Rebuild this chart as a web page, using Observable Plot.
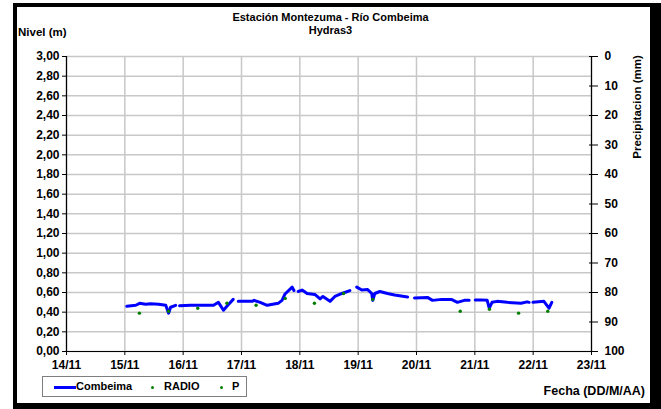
<!DOCTYPE html>
<html><head><meta charset="utf-8">
<script src="https://cdn.jsdelivr.net/npm/d3@7"></script>
<script src="https://cdn.jsdelivr.net/npm/@observablehq/plot@0.6"></script>
<style>
body{margin:0;background:#fff;}
#wrap{position:relative;width:661px;height:409px;overflow:hidden;background:#fff;font-family:"Liberation Sans",Arial,sans-serif;font-weight:bold;color:#000;}
#chart{position:absolute;left:0;top:0;}
.t{position:absolute;white-space:nowrap;font-weight:bold;}
#frame{position:absolute;left:13px;top:3px;width:648px;height:406px;box-sizing:border-box;border-style:solid;border-color:#000;border-width:4px 11px 6px 4px;pointer-events:none;}
#legend{position:absolute;left:42px;top:376px;width:205px;height:21px;box-sizing:border-box;border:1px solid #7f7f7f;background:#fff;font-size:11px;}
</style></head><body>
<div id="wrap">
  <div id="chart"></div>
  <div class="t" style="left:0;width:661px;text-align:center;top:11px;font-size:11px;">Estación Montezuma - Río Combeima</div>
  <div class="t" style="left:0;width:661px;text-align:center;top:24px;font-size:11px;">Hydras3</div>
  <div class="t" style="left:18px;top:26px;font-size:11.5px;">Nivel (m)</div>
  <div class="t" style="left:637px;top:107px;font-size:11.5px;transform:translate(-50%,-50%) rotate(-90deg);">Precipitacion (mm)</div>
  <div class="t" style="right:16px;top:384px;font-size:12.5px;">Fecha (DD/M/AA)</div>
  <div id="legend">
    <div style="position:absolute;left:11px;top:9px;width:22px;height:3px;background:#0000ff;"></div>
    <div class="t" style="left:33px;top:3px;">Combeima</div>
    <div style="position:absolute;left:108px;top:9px;width:3px;height:3px;border-radius:50%;background:#008000;"></div>
    <div class="t" style="left:121px;top:3px;">RADIO</div>
    <div style="position:absolute;left:177px;top:9px;width:3px;height:3px;border-radius:50%;background:#008000;"></div>
    <div class="t" style="left:189px;top:3px;">P</div>
  </div>
  <div id="frame"></div>
</div>
<script>
// Combeima level series (null = gap in record)
const combeimaTime = [
  "2010-11-15T00:48","2010-11-15T04:30","2010-11-15T06:05","2010-11-15T08:35","2010-11-15T10:35","2010-11-15T13:55","2010-11-15T16:50","2010-11-15T18:00","2010-11-15T18:50","2010-11-15T20:55",
  "2010-11-15T21:40",
  "2010-11-15T22:30","2010-11-16T03:00","2010-11-16T07:05","2010-11-16T12:30","2010-11-16T14:30","2010-11-16T16:35","2010-11-16T18:10","2010-11-16T20:35",
  "2010-11-16T21:40",
  "2010-11-16T22:40","2010-11-17T04:25","2010-11-17T05:10","2010-11-17T07:40","2010-11-17T10:35","2010-11-17T15:05","2010-11-17T16:40","2010-11-17T17:55","2010-11-17T20:50","2010-11-17T21:35",
  "2010-11-17T22:30",
  "2010-11-17T23:20","2010-11-18T00:55","2010-11-18T03:00","2010-11-18T06:10","2010-11-18T08:20","2010-11-18T09:30","2010-11-18T12:25","2010-11-18T14:25","2010-11-18T17:20","2010-11-18T20:35",
  "2010-11-18T22:00",
  "2010-11-18T23:25","2010-11-19T01:30","2010-11-19T03:55","2010-11-19T05:35","2010-11-19T06:00","2010-11-19T06:50","2010-11-19T08:55","2010-11-19T12:05","2010-11-19T15:00","2010-11-19T20:20",
  "2010-11-19T21:40",
  "2010-11-19T23:10","2010-11-20T04:30","2010-11-20T06:35","2010-11-20T10:20","2010-11-20T14:20","2010-11-20T16:50","2010-11-20T19:40","2010-11-20T21:40",
  "2010-11-20T23:00",
  "2010-11-21T00:10","2010-11-21T02:35","2010-11-21T05:05","2010-11-21T05:55","2010-11-21T07:05","2010-11-21T09:10","2010-11-21T13:20","2010-11-21T19:00","2010-11-21T21:30","2010-11-21T22:20",
  "2010-11-21T23:10",
  "2010-11-21T23:55","2010-11-22T04:25","2010-11-22T06:30","2010-11-22T07:40"
];
const combeimaNivel = [
  0.46,0.47,0.49,0.48,0.485,0.48,0.47,0.39,0.45,0.47,
  null,
  0.465,0.47,0.47,0.47,0.50,0.42,0.465,0.53,
  null,
  0.51,0.51,0.52,0.50,0.47,0.49,0.52,0.585,0.655,0.62,
  null,
  0.61,0.625,0.59,0.58,0.535,0.56,0.51,0.56,0.59,0.62,
  null,
  0.655,0.625,0.63,0.59,0.52,0.59,0.61,0.59,0.575,0.555,
  null,
  0.545,0.55,0.52,0.53,0.53,0.50,0.52,0.52,
  null,
  0.525,0.525,0.52,0.44,0.50,0.51,0.50,0.49,0.505,0.50,
  null,
  0.50,0.51,0.44,0.50
];
// RADIO readings
const radioTime = ["2010-11-15T06:00","2010-11-15T18:00","2010-11-16T06:00","2010-11-16T18:00","2010-11-17T06:00","2010-11-17T18:00","2010-11-18T06:00","2010-11-18T18:00","2010-11-19T06:00","2010-11-20T18:00","2010-11-21T06:00","2010-11-21T18:00","2010-11-22T06:00"];
const radioNivel = [0.39,0.41,0.44,0.49,0.47,0.54,0.49,0.59,0.53,0.41,0.43,0.39,0.41];
// P (precipitation) series: no values shown
const pTime = [];
const pValue = [];
// Axes
const xStart = "2010-11-14T00:00", xEnd = "2010-11-23T00:00";
const nivelTicks = d3.range(0, 16).map(i => +(i * 0.2).toFixed(2));
const precipTicks = d3.range(0, 11).map(i => i * 10);
const precipMax = 100, nivelMax = 3;

const toDate = s => new Date(s + "Z");
const line = combeimaTime.map((t, i) => ({date: toDate(t), nivel: combeimaNivel[i]}));
const radio = radioTime.map((t, i) => ({date: toDate(t), nivel: radioNivel[i]}));
const pData = pTime.map((t, i) => ({date: toDate(t), nivel: nivelMax - pValue[i] * nivelMax / precipMax}));
const x0 = toDate(xStart), x1 = toDate(xEnd);
const dayTicks = d3.utcDay.range(x0, d3.utcDay.offset(x1, 1));
const precipLevels = precipTicks.map(p => nivelMax - p * nivelMax / precipMax);
const fmtN = d => d.toFixed(2).replace(".", ",");
const fmtP = y => String(Math.round((nivelMax - y) * precipMax / nivelMax));

const chart = Plot.plot({
  width: 661, height: 409,
  marginLeft: 66, marginRight: 70, marginTop: 56, marginBottom: 58,
  style: {fontFamily: '"Liberation Sans", Arial, sans-serif', fontWeight: "bold", fontSize: "12px", color: "#000", background: "transparent", overflow: "visible"},
  x: {type: "utc", domain: [x0, x1]},
  y: {domain: [0, nivelMax]},
  marks: [
    Plot.ruleX(dayTicks, {stroke: "#c8c8c8", strokeWidth: 1.5}),
    Plot.ruleY(nivelTicks, {stroke: "#c8c8c8", strokeWidth: 1.5}),
    Plot.ruleY([0], {stroke: "#000", strokeWidth: 1.2}),
    Plot.ruleX([x0, x1], {stroke: "#000", strokeWidth: 1.2}),
    Plot.axisX(dayTicks, {tickSize: 4, tickPadding: 5, tickFormat: d3.utcFormat("%d/%m"), label: null, fontSize: 12, fontWeight: "bold"}),
    Plot.axisY(nivelTicks, {anchor: "left", tickSize: 4, tickPadding: 3, tickFormat: fmtN, label: null, fontSize: 12, fontWeight: "bold"}),
    Plot.axisY(precipLevels, {anchor: "right", tickSize: 9, dx: -3, tickPadding: 7, tickFormat: fmtP, label: null, fontSize: 12, fontWeight: "bold"}),
    Plot.line(line, {x: "date", y: "nivel", stroke: "#0000ff", strokeWidth: 3}),
    Plot.dot(radio, {x: "date", y: "nivel", r: 1.7, fill: "#008000", stroke: null}),
    Plot.dot(pData, {x: "date", y: "nivel", r: 1.7, fill: "#008000", stroke: null})
  ]
});
document.getElementById("chart").appendChild(chart);
</script>
</body></html>
